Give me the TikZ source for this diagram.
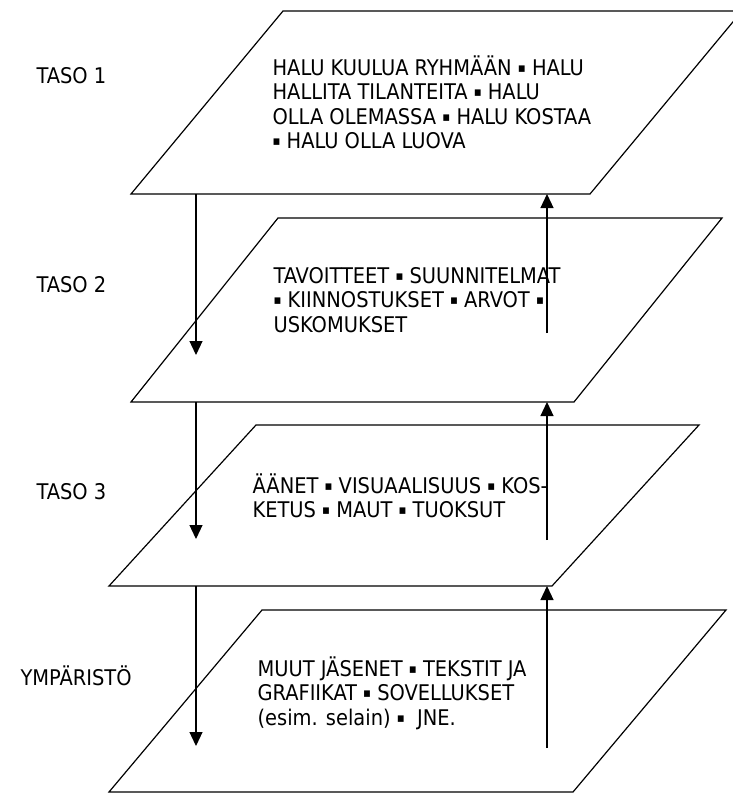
\documentclass[tikz,border=0pt]{standalone}
\usepackage{fontspec}
\setmainfont{DejaVu Sans Condensed}
\usetikzlibrary{arrows.meta}
\newcommand{\pp}{\raisebox{2.6pt}{\fontsize{13}{13}\selectfont ▪}}
\begin{document}
\begin{tikzpicture}[x=1pt,y=-1pt,line width=1.2pt,
  lbl/.style={anchor=base west,inner sep=0pt,font=\fontsize{21.6}{24.5}\selectfont},
  txt/.style={lbl,align=left},
  arr/.style={-{Triangle[width=13pt,length=14pt]}}]
\useasboundingbox (0,0) rectangle (732,793);
% tasot
\coordinate (l1a) at (131,194); \coordinate (l1b) at (590,194);
\coordinate (l1c) at (742,11);  \coordinate (l1d) at (283,11);
\draw[](l1a) -- (l1b) -- (l1c) -- (l1d) -- cycle;
\coordinate (l2a) at (131,402); \coordinate (l2b) at (574,402);
\coordinate (l2c) at (722,218); \coordinate (l2d) at (278,218);
\draw[](l2a) -- (l2b) -- (l2c) -- (l2d) -- cycle;
\coordinate (l3a) at (109,586); \coordinate (l3b) at (552,586);
\coordinate (l3c) at (699,425); \coordinate (l3d) at (256,425);
\draw[](l3a) -- (l3b) -- (l3c) -- (l3d) -- cycle;
\coordinate (l4a) at (109,792); \coordinate (l4b) at (573,792);
\coordinate (l4c) at (726,610); \coordinate (l4d) at (262,610);
\draw[](l4a) -- (l4b) -- (l4c) -- (l4d) -- cycle;
% tekstit (ankkuri = viimeisen rivin perusviiva)
\node[lbl] (taso1) at (36,83){TASO 1};
\node[lbl] (taso2) at (36,292){TASO 2};
\node[lbl] (taso3) at (36,499){TASO 3};
\node[lbl] (ymp) at (20,685){YMPÄRISTÖ};
\node[txt] (t1) at (272,148.5){HALU KUULUA RYHMÄÄN \pp{} HALU\\HALLITA TILANTEITA \pp{} HALU\\OLLA OLEMASSA \pp{} HALU KOSTAA\\\pp{} HALU OLLA LUOVA};
\node[txt] (t2) at (273,332){TAVOITTEET \pp{} SUUNNITELMAT\\\pp{} KIINNOSTUKSET \pp{} ARVOT \pp\\USKOMUKSET};
\node[txt] (t3) at (252,517.5){ÄÄNET \pp{} VISUAALISUUS \pp{} KOS-\\KETUS \pp{} MAUT \pp{} TUOKSUT};
\node[txt] (t4) at (257,725){MUUT JÄSENET \pp{} TEKSTIT JA\\GRAFIIKAT \pp{} SOVELLUKSET\\(esim. selain) \pp{} \ JNE.};
% nuolet
\coordinate (dn1) at (196,194); \coordinate (dn1e) at (196,355);
\coordinate (dn2) at (196,402); \coordinate (dn2e) at (196,539);
\coordinate (dn3) at (196,586); \coordinate (dn3e) at (196,746);
\coordinate (up1) at (547,333); \coordinate (up1e) at (547,194);
\coordinate (up2) at (547,540); \coordinate (up2e) at (547,402);
\coordinate (up3) at (547,748); \coordinate (up3e) at (547,586);
\draw[arr](dn1) -- (dn1e);
\draw[arr](dn2) -- (dn2e);
\draw[arr](dn3) -- (dn3e);
\draw[arr](up1) -- (up1e);
\draw[arr](up2) -- (up2e);
\draw[arr](up3) -- (up3e);
\end{tikzpicture}
\end{document}
